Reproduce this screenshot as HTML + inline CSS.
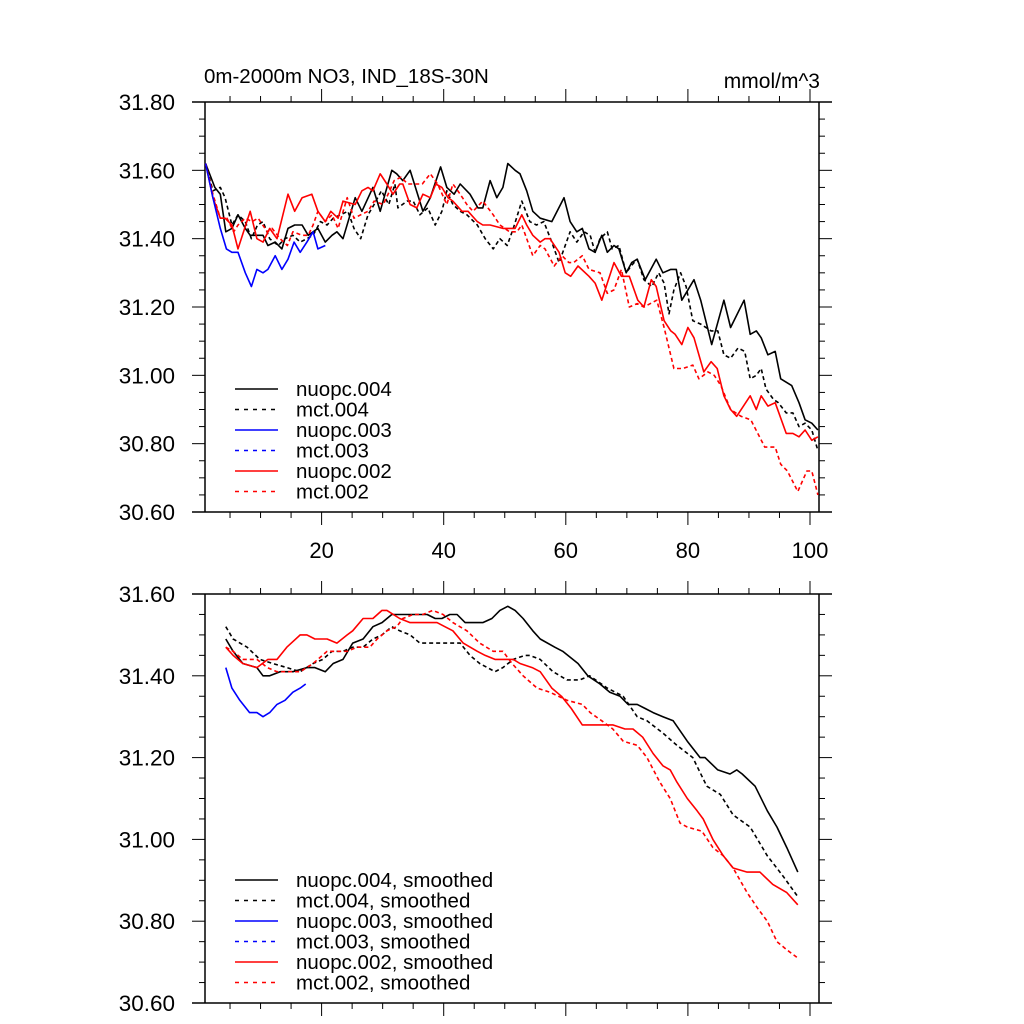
<!DOCTYPE html>
<html><head><meta charset="utf-8"><style>
html,body{margin:0;padding:0;background:#fff;}
svg{display:block;font-family:"Liberation Sans",Arial,sans-serif;}
</style></head><body>
<svg id="chart" width="1024" height="1024" viewBox="0 0 1024 1024" xmlns="http://www.w3.org/2000/svg">
<rect width="1024" height="1024" fill="#fff"/>
<text x="204" y="83" font-size="20.5">0m-2000m NO3, IND_18S-30N</text>
<text x="820" y="88" font-size="21" text-anchor="end">mmol/m^3</text>
<g id="top"></g><g id="bot"></g>
</svg>
<script>
const xTickLabels=[20,40,60,80,100];
const topYTicks=[31.80,31.60,31.40,31.20,31.00,30.80,30.60];
const botYTicks=[31.60,31.40,31.20,31.00,30.80,30.60];
const topLegend=["nuopc.004","mct.004","nuopc.003","mct.003","nuopc.002","mct.002"];
const botLegend=["nuopc.004, smoothed","mct.004, smoothed","nuopc.003, smoothed","mct.003, smoothed","nuopc.002, smoothed","mct.002, smoothed"];

const tN4X=[1,2.5,3.4,4.3,5.3,6.3,7.5,8.3,9.4,10.4,11.2,12.4,13.5,14.5,15.6,16.8,17.8,19.4,20.6,21.7,22.5,23.5,25.5,26.6,28.4,29.6,31.5,32.3,33.3,34.5,36.6,37.8,39.5,40.5,41.7,42.7,44.3,45.6,46.4,47.6,48.7,49.7,50.5,51.7,52.5,53.6,54.6,55.8,57.7,59.7,60.7,61.8,62.7,63.8,64.8,65.9,66.8,67.9,68.7,69.9,70.8,71.7,73.0,74.8,75.9,77.2,78.1,79.0,81.0,82.1,83.9,85.9,87.0,89.2,90.2,91.2,92.0,93.1,94.3,95.2,96.1,97.0,98.2,99.2,100.3,101.3];
const tN4Y=[31.62,31.55,31.53,31.42,31.43,31.47,31.43,31.41,31.41,31.41,31.38,31.39,31.37,31.43,31.44,31.44,31.41,31.43,31.39,31.41,31.42,31.40,31.52,31.48,31.55,31.48,31.60,31.59,31.57,31.60,31.48,31.52,31.61,31.55,31.53,31.56,31.53,31.49,31.49,31.57,31.52,31.55,31.62,31.60,31.59,31.54,31.48,31.46,31.45,31.52,31.45,31.42,31.43,31.37,31.36,31.41,31.36,31.38,31.37,31.30,31.33,31.34,31.28,31.34,31.30,31.31,31.31,31.22,31.28,31.22,31.09,31.22,31.14,31.22,31.12,31.13,31.11,31.06,31.07,30.99,30.98,30.97,30.92,30.87,30.86,30.84];
const tM4X=[1,2.2,3.4,4.2,5.3,6.3,7.5,8.5,9.5,10.4,11.5,12.9,14.0,15.3,16.5,17.6,18.6,19.8,20.9,21.9,23.1,24.3,25.3,26.4,27.6,28.6,29.8,31.0,32.0,32.5,34.0,35.0,36.1,37.4,38.6,39.7,40.5,41.5,42.7,43.8,45.5,46.8,48.1,49.2,50.4,51.4,52.8,54.1,55.2,56.4,57.7,58.9,59.7,60.7,61.8,63.0,64.0,64.8,65.6,66.8,67.6,68.7,69.9,70.7,71.7,72.8,74.1,75.2,76.1,76.9,77.7,78.8,79.7,80.8,82.1,83.8,84.9,85.9,87.0,88.2,89.3,90.2,91.2,92.0,92.8,94.0,94.8,96.1,97.2,98.2,99.2,100.3,101.3];
const tM4Y=[31.62,31.54,31.55,31.52,31.44,31.47,31.45,31.40,31.44,31.45,31.40,31.38,31.40,31.41,31.39,31.40,31.41,31.45,31.44,31.46,31.47,31.48,31.43,31.40,31.47,31.50,31.54,31.50,31.56,31.49,31.51,31.51,31.47,31.49,31.44,31.48,31.54,31.50,31.48,31.47,31.44,31.40,31.37,31.40,31.38,31.43,31.51,31.45,31.44,31.45,31.39,31.33,31.37,31.42,31.39,31.42,31.41,31.36,31.40,31.42,31.37,31.38,31.30,31.32,31.34,31.28,31.26,31.30,31.27,31.18,31.25,31.30,31.26,31.16,31.15,31.13,31.13,31.06,31.05,31.08,31.07,30.99,31.00,31.02,30.96,30.93,30.92,30.89,30.89,30.85,30.86,30.84,30.78];
const tN3X=[1,2.2,3.4,4.4,5.3,6.3,7.5,8.5,9.4,10.4,11.2,12.4,13.5,14.5,15.5,16.5,17.6,18.6,19.4,20.6];
const tN3Y=[31.62,31.52,31.43,31.37,31.36,31.36,31.30,31.26,31.31,31.30,31.31,31.35,31.31,31.34,31.39,31.36,31.39,31.42,31.37,31.38];
const tN2X=[1,2.2,3.4,4.2,5.3,6.3,8.3,9.4,10.4,11.5,12.7,14.5,15.6,16.8,18.4,19.4,20.6,21.5,22.7,23.5,25.5,26.6,27.6,28.4,29.6,30.7,31.7,32.8,33.3,34.5,35.6,36.6,37.8,38.7,39.7,40.7,41.5,43.0,44.0,45.5,46.4,47.6,49.7,51.7,52.8,53.6,54.6,55.8,56.6,57.4,58.9,59.9,60.8,62.0,63.8,64.8,65.9,66.8,67.9,69.1,70.4,71.8,72.8,74.0,74.8,76.1,77.2,77.9,79.0,80.0,81.0,82.6,83.8,84.8,85.9,87.0,88.0,90.2,91.2,92.0,93.1,94.3,96.1,97.2,98.2,99.2,100.3,101.3];
const tN2Y=[31.62,31.52,31.46,31.46,31.44,31.37,31.48,31.40,31.39,31.43,31.40,31.53,31.48,31.52,31.53,31.48,31.45,31.48,31.46,31.51,31.50,31.54,31.55,31.54,31.59,31.56,31.53,31.56,31.56,31.50,31.49,31.53,31.52,31.56,31.55,31.52,31.51,31.48,31.48,31.45,31.44,31.44,31.43,31.43,31.47,31.44,31.41,31.39,31.40,31.40,31.36,31.30,31.29,31.32,31.29,31.27,31.22,31.27,31.33,31.29,31.29,31.22,31.20,31.28,31.26,31.16,31.13,31.12,31.09,31.14,31.11,31.01,31.04,31.02,30.94,30.90,30.88,30.94,30.90,30.94,30.91,30.92,30.83,30.83,30.82,30.84,30.81,30.82];
const tM2X=[1,2.2,3.4,4.5,5.6,6.3,7.5,8.6,9.6,11.1,11.9,13.2,14.4,15.3,16.8,17.8,18.6,19.4,20.6,21.7,22.7,24.2,25.3,26.4,27.6,28.6,30.1,30.9,31.9,33.0,34.1,35.4,36.5,37.8,39.0,40.5,41.5,42.7,43.8,44.8,46.4,48.1,49.2,50.8,52.0,52.8,54.6,55.8,56.6,58.1,59.4,60.5,61.3,62.7,63.8,65.6,66.8,67.9,69.1,70.4,71.7,72.8,74.9,76.1,77.7,79.2,80.8,81.8,83.3,84.3,85.4,87.0,88.7,90.3,92.6,94.3,95.2,96.3,98.0,99.5,100.3,101.3];
const tM2Y=[31.62,31.53,31.46,31.46,31.42,31.44,31.46,31.45,31.46,31.42,31.43,31.40,31.38,31.42,31.41,31.41,31.44,31.48,31.45,31.47,31.43,31.52,31.46,31.47,31.48,31.51,31.50,31.53,31.57,31.58,31.56,31.56,31.56,31.59,31.56,31.50,31.56,31.53,31.50,31.48,31.51,31.47,31.44,31.42,31.42,31.44,31.35,31.38,31.37,31.32,31.35,31.33,31.33,31.35,31.31,31.30,31.24,31.25,31.31,31.20,31.21,31.20,31.22,31.14,31.02,31.02,31.03,30.99,31.01,31.00,30.97,30.90,30.88,30.87,30.79,30.79,30.74,30.72,30.66,30.72,30.72,30.65];

const bN4X=[4.3,5.5,7.1,9.4,10.4,11.5,13.2,15.3,17.6,18.9,20.6,21.9,23.5,25.1,26.8,28.4,29.9,31.5,32.8,34.5,35.8,37.3,38.6,39.7,41.0,42.2,43.5,44.8,46.4,47.9,49.2,50.5,51.7,53.0,54.6,55.8,58.2,59.5,62.0,63.6,65.6,67.2,68.9,70.2,71.7,73.0,74.3,75.9,77.6,79.9,82.0,82.8,84.9,86.9,88.0,88.9,91.0,93.0,94.6,96.2,98.0];
const bN4Y=[31.49,31.46,31.43,31.42,31.40,31.40,31.41,31.41,31.42,31.42,31.41,31.43,31.44,31.48,31.49,31.52,31.53,31.55,31.55,31.55,31.55,31.55,31.54,31.54,31.55,31.55,31.53,31.53,31.53,31.54,31.56,31.57,31.56,31.54,31.51,31.49,31.47,31.46,31.43,31.40,31.38,31.36,31.35,31.33,31.33,31.32,31.31,31.30,31.29,31.24,31.20,31.20,31.17,31.16,31.17,31.16,31.13,31.07,31.03,30.98,30.92];
const bM4X=[4.3,5.5,7.8,9.9,12.0,14.3,16.5,18.6,20.2,21.7,23.5,25.1,26.8,28.4,29.9,31.5,32.8,34.5,36.1,38.2,40.5,42.7,44.3,45.9,48.4,49.7,51.4,53.3,54.1,55.8,57.9,60.2,62.3,63.9,66.8,69.4,71.7,73.3,75.9,78.2,80.8,83.1,85.3,87.4,90.2,93.0,95.6,98.0];
const bM4Y=[31.52,31.49,31.47,31.44,31.43,31.42,31.41,31.43,31.44,31.46,31.46,31.47,31.47,31.49,31.50,31.52,31.51,31.50,31.48,31.48,31.48,31.48,31.45,31.43,31.41,31.42,31.44,31.45,31.45,31.44,31.41,31.39,31.39,31.40,31.37,31.35,31.30,31.29,31.26,31.23,31.20,31.13,31.11,31.06,31.03,30.96,30.91,30.86];
const bN3X=[4.3,5.3,6.6,8.2,9.4,10.4,11.5,12.7,14.0,15.3,16.5,17.4];
const bN3Y=[31.42,31.37,31.34,31.31,31.31,31.30,31.31,31.33,31.34,31.36,31.37,31.38];
const bN2X=[4.3,5.5,7.1,9.4,11.2,12.7,14.3,16.5,17.6,18.9,20.9,22.5,24.2,25.1,26.8,28.4,29.9,30.7,32.8,34.5,35.8,37.3,38.9,40.2,41.5,43.2,45.5,46.8,48.4,49.7,51.4,52.5,54.5,55.8,57.7,59.3,60.9,62.7,63.6,64.8,66.1,67.7,69.7,71.0,72.6,74.3,75.9,77.1,78.2,79.9,81.5,82.5,84.1,85.8,87.4,89.7,91.8,93.9,96.2,98.0];
const bN2Y=[31.47,31.45,31.43,31.42,31.44,31.44,31.47,31.50,31.50,31.49,31.49,31.48,31.50,31.51,31.54,31.54,31.56,31.56,31.54,31.53,31.53,31.53,31.53,31.52,31.51,31.48,31.46,31.45,31.44,31.44,31.44,31.43,31.42,31.41,31.37,31.35,31.32,31.28,31.28,31.28,31.28,31.28,31.27,31.27,31.25,31.21,31.18,31.17,31.14,31.10,31.07,31.05,31.00,30.96,30.93,30.92,30.92,30.89,30.87,30.84];
const bM2X=[4.3,5.5,7.1,9.4,11.1,12.7,14.3,16.5,18.6,20.9,22.5,24.2,25.8,27.9,29.1,30.7,32.3,33.3,35.0,36.6,38.2,39.9,41.5,43.8,45.9,48.1,49.7,51.2,53.0,55.3,57.4,60.2,62.7,64.0,65.9,67.7,69.4,71.7,73.3,75.4,77.1,78.7,79.9,82.3,84.1,85.8,87.4,89.7,91.5,93.0,94.6,96.2,98.0];
const bM2Y=[31.47,31.46,31.44,31.44,31.42,31.41,31.41,31.41,31.43,31.46,31.46,31.46,31.47,31.47,31.49,31.51,31.52,31.54,31.55,31.55,31.56,31.55,31.53,31.51,31.48,31.46,31.46,31.43,31.40,31.37,31.36,31.34,31.33,31.31,31.29,31.27,31.24,31.23,31.20,31.14,31.10,31.04,31.03,31.02,30.98,30.96,30.93,30.87,30.83,30.80,30.75,30.73,30.71];

const NS="http://www.w3.org/2000/svg";
const X0=199.5, XS=6.105;
function xPx(v){return X0+XS*v;}
function mk(tag,attrs,parent){const e=document.createElementNS(NS,tag);for(const k in attrs)e.setAttribute(k,attrs[k]);parent.appendChild(e);return e;}

function panel(gid,top,bottom,ymax,ymin,yTicks,showXLabels,series,legend,legY){
  const g=document.getElementById(gid);
  const yPx=v=>top+(ymax-v)/(ymax-ymin)*(bottom-top);
  const L=205,R=819;
  let e=mk('line',{x1:192,y1:top,x2:832,y2:top,stroke:'#000','stroke-width':1.5},g);
  
  e=mk('line',{x1:192,y1:bottom,x2:832,y2:bottom,stroke:'#000','stroke-width':1.5},g);
  
  e=mk('line',{x1:L,y1:top,x2:L,y2:bottom,stroke:'#000','stroke-width':1.5},g);
  
  e=mk('line',{x1:R,y1:top,x2:R,y2:bottom,stroke:'#000','stroke-width':1.5},g);
  
  for(let v=5;v<=100;v+=5){
    const maj=v%20===0, px=xPx(v), len=maj?13:6;
    mk('line',{x1:px,y1:top,x2:px,y2:top-len,stroke:'#000','stroke-width':1},g);
    mk('line',{x1:px,y1:bottom,x2:px,y2:bottom+len,stroke:'#000','stroke-width':1},g);
  }
  if(showXLabels){
    xTickLabels.forEach(v=>{
      const t=mk('text',{x:xPx(v),y:bottom+46,'font-size':22,'text-anchor':'middle'},g);
      
      
      t.textContent=v;
    });
  }
  for(let v=ymin;v<=ymax+1e-6;v+=0.05){
    const k=Math.round(v*100), maj=k%20===0, py=yPx(v), len=maj?13:6;
    mk('line',{x1:L,y1:py,x2:L-len,y2:py,stroke:'#000','stroke-width':1},g);
    mk('line',{x1:R,y1:py,x2:R+len,y2:py,stroke:'#000','stroke-width':1},g);
  }
  yTicks.forEach(v=>{
    const t=mk('text',{x:175,y:yPx(v)+8,'font-size':22.5,'text-anchor':'end'},g);
    
    
    t.textContent=v.toFixed(2);
  });
  series.forEach(s=>{
    const pts=s.x.map((xv,i)=>xPx(xv).toFixed(1)+','+yPx(s.y[i]).toFixed(1)).join(' ');
    const p=mk('polyline',{points:pts,fill:'none',stroke:s.c,'stroke-width':1.6,'stroke-linejoin':'round'},g);
    if(s.d)p.setAttribute('stroke-dasharray','4,3');
    
    
  });
  const cols=['#000','#000','#00f','#00f','#f00','#f00'];
  legend.forEach((lab,i)=>{
    const y=legY+i*20.5;
    const l=mk('line',{x1:235,y1:y,x2:278,y2:y,stroke:cols[i],'stroke-width':1.6},g);
    if(i%2===1)l.setAttribute('stroke-dasharray','4,5');
    
    
    const t=mk('text',{x:296,y:y+7,'font-size':20.5},g);
    
    
    t.textContent=lab;
  });
}
panel('top',102,512,31.80,30.60,topYTicks,true,[
 {x:tN4X,y:tN4Y,c:'#000',d:false,n:'line-nuopc004'},
 {x:tM4X,y:tM4Y,c:'#000',d:true,n:'line-mct004'},
 {x:tM2X,y:tM2Y,c:'#f00',d:true,n:'line-mct002'},
 {x:tN2X,y:tN2Y,c:'#f00',d:false,n:'line-nuopc002'},
 {x:tN3X,y:tN3Y,c:'#00f',d:false,n:'line-nuopc003'}
],topLegend,389);
panel('bot',594,1003,31.60,30.60,botYTicks,false,[
 {x:bN4X,y:bN4Y,c:'#000',d:false,n:'smoothed-nuopc004'},
 {x:bM4X,y:bM4Y,c:'#000',d:true,n:'smoothed-mct004'},
 {x:bM2X,y:bM2Y,c:'#f00',d:true,n:'smoothed-mct002'},
 {x:bN2X,y:bN2Y,c:'#f00',d:false,n:'smoothed-nuopc002'},
 {x:bN3X,y:bN3Y,c:'#00f',d:false,n:'smoothed-nuopc003'}
],botLegend,880);
</script>
</body></html>
